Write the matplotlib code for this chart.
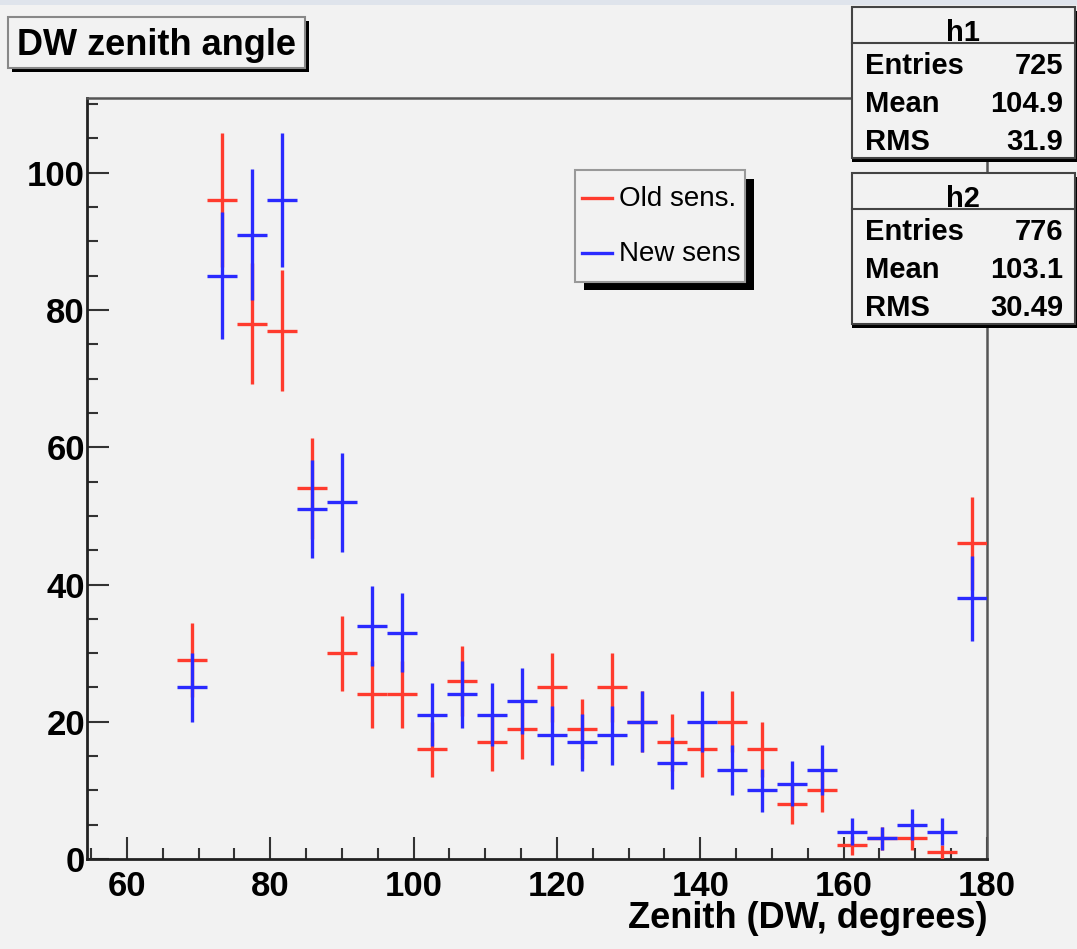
import matplotlib
matplotlib.use('Agg')
import matplotlib.pyplot as plt
from matplotlib.patches import Rectangle
from matplotlib.lines import Line2D
from matplotlib.ticker import MultipleLocator
import numpy as np

plt.rcParams['font.family'] = ['Liberation Sans', 'DejaVu Sans']
plt.rcParams['font.weight'] = 'bold'

###DATA###
# bin centres (deg), 43 bins over 0..180, only the shown range
zenith = [69.07, 73.26, 77.44, 81.63, 85.81, 90.00, 94.19, 98.37, 102.56,
          106.74, 110.93, 115.12, 119.30, 123.49, 127.67, 131.86, 136.05,
          140.23, 144.42, 148.60, 152.79, 156.98, 161.16, 165.35, 169.53,
          173.72, 177.91]
bin_width = 4.186
old_sens = [29, 96, 78, 77, 54, 30, 24, 24, 16, 26, 17, 19, 25, 19, 25, 20,
            17, 16, 20, 16, 8, 10, 2, 3, 3, 1, 46]
new_sens = [25, 85, 91, 96, 51, 52, 34, 33, 21, 24, 21, 23, 18, 17, 18, 20,
            14, 20, 13, 10, 11, 13, 4, 3, 5, 4, 38]
series_labels = ['Old sens.', 'New sens']

stat_names = ['h1', 'h2']
stat_entries = ['725', '776']
stat_mean = ['104.9', '103.1']
stat_rms = ['31.9', '30.49']

RED = '#ff3b2e'
BLUE = '#2a2aff'
BG = '#f2f2f2'

W, H = 1077, 949


def px(x, y):
    # pixel (from top-left) -> figure fraction
    return x / W, 1 - y / H


def box(x0, y0, x1, y1, **kw):
    r = Rectangle(px(x0, y1), (x1 - x0) / W, (y1 - y0) / H,
                  transform=fig.transFigure, **kw)
    fig.add_artist(r)
    return r


def hline(x0, x1, y, **kw):
    fig.add_artist(Line2D([x0 / W, x1 / W], [1 - y / H] * 2,
                          transform=fig.transFigure, **kw))


###PLOT###
fig = plt.figure(figsize=(W / 100, H / 100), dpi=100, facecolor=BG)
ax = fig.add_axes([87 / W, 1 - 859 / H, (987 - 87) / W, (859 - 98) / H])
ax.set_facecolor(BG)

x = np.array(zenith)
old = np.array(old_sens)
new = np.array(new_sens)

ax.errorbar(x, old, yerr=np.sqrt(old), xerr=bin_width / 2, fmt='none',
            ecolor=RED, elinewidth=2.4, capsize=0, zorder=3)
ax.errorbar(x, new, yerr=np.sqrt(new), xerr=bin_width / 2, fmt='none',
            ecolor=BLUE, elinewidth=2.4, capsize=0, zorder=4)

ax.set_xlim(54.42, 180)
ax.set_ylim(0, 110.9)
ax.xaxis.set_major_locator(MultipleLocator(20))
ax.xaxis.set_minor_locator(MultipleLocator(5))
ax.yaxis.set_major_locator(MultipleLocator(20))
ax.yaxis.set_minor_locator(MultipleLocator(5))
ax.tick_params(which='both', direction='in', color='#333333', width=1.5,
               labelsize=25)
ax.tick_params(which='major', length=16)
ax.tick_params(which='minor', length=8)
ax.tick_params(axis='x', pad=8)
ax.tick_params(axis='y', pad=1.5)

for side in ['left', 'bottom']:
    ax.spines[side].set_color('#222222')
    ax.spines[side].set_linewidth(2)
for side in ['top', 'right']:
    ax.spines[side].set_color('#555555')
    ax.spines[side].set_linewidth(1.8)

fig.text(*px(987, 928), 'Zenith (DW, degrees)', ha='right', va='baseline',
         fontsize=26, fontweight='bold')

# legend (ROOT style, with shadow)
box(584, 179, 754, 290, facecolor='black', edgecolor='none')
box(575, 170, 745, 282, facecolor=BG, edgecolor='#999999', lw=1.5)
for k, (col, lab) in enumerate(zip([RED, BLUE], series_labels)):
    yc = 198 + 55 * k
    hline(582, 612, yc, color=col, lw=2.4)
    fig.text(*px(619, yc + 8), lab, ha='left', va='baseline',
             fontsize=20, fontweight='normal')

# window chrome strip at the top
box(0, 0, W, 5, facecolor='#dfe4ec', edgecolor='none')

# title box
box(12, 21, 309, 72, facecolor='black', edgecolor='none')
box(8, 17, 305, 68, facecolor=BG, edgecolor='#888888', lw=1.5)
fig.text(*px(17, 55), 'DW zenith angle', fontsize=26, fontweight='bold',
         va='baseline', ha='left')

# stats boxes
for i, name in enumerate(stat_names):
    top = 7 + 166 * i
    box(852, top + 4, 1077, top + 155, facecolor='black', edgecolor='none')
    box(852, top, 1075, top + 151, facecolor=BG, edgecolor='#444444', lw=1.5)
    hline(852, 1075, top + 36, color='#444444', lw=1.5)
    fig.text(*px(963, top + 34), name, ha='center', va='baseline',
             fontsize=21, fontweight='bold')
    rows = [('Entries', stat_entries[i]), ('Mean', stat_mean[i]),
            ('RMS', stat_rms[i])]
    for j, (lab, val) in enumerate(rows):
        yb = top + 67 + 38 * j
        fig.text(*px(865, yb), lab, ha='left', va='baseline',
                 fontsize=21, fontweight='bold')
        fig.text(*px(1063, yb), val, ha='right', va='baseline',
                 fontsize=21, fontweight='bold')

fig.savefig('out.png', dpi=100, facecolor=BG)
